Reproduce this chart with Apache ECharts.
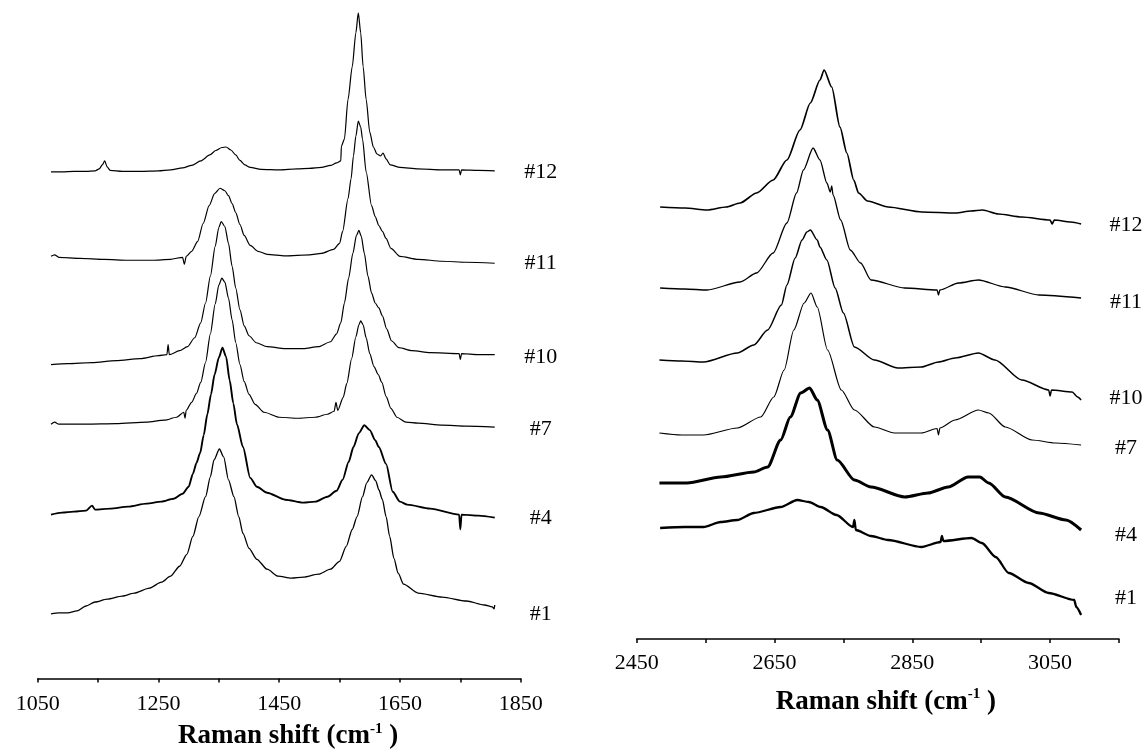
<!DOCTYPE html>
<html>
<head>
<meta charset="utf-8">
<script src="https://cdn.jsdelivr.net/npm/echarts@6/dist/echarts.min.js"></script>
<style>
html,body{margin:0;padding:0;background:#fff;}
#c{width:1144px;height:755px;}
</style>
</head>
<body>
<div id="c"></div>
<script>
// ---------- DATA (Raman shift cm-1, intensity a.u. incl. vertical offset) ----------
const namesL = ['#12', '#11', '#10', '#7', '#4', '#1'];
const namesR = ['#12', '#11', '#10', '#7', '#4', '#1'];

// left panel (D and G bands)
const L12 = [[1072,510],[1090,510],[1110,510.5],[1130,510.5],[1145,511],[1152,513],[1157,517],[1161,521],[1165,515],[1170,511.5],[1190,510.5],[1220,510.5],[1250,511],[1270,512],[1290,514],[1305,516.5],[1320,521],[1335,527],[1345,531.5],[1355,534.5],[1362,535],[1370,532],[1378,527],[1385,521.5],[1393,517],[1402,514.5],[1420,512.5],[1450,512],[1480,513],[1500,513.5],[1520,514.5],[1535,516.5],[1545,519],[1552,521],[1553,536],[1558,543],[1564,583],[1571,616],[1577,650],[1581,670],[1585,650],[1589,616],[1594,583],[1600,550],[1606,535],[1612,528],[1618,526],[1622,529],[1627,523],[1634,517],[1650,514.5],[1680,513],[1720,512],[1748,512],[1750,507],[1752,512],[1780,511.5],[1807,511]];
const L11 = [[1072,425],[1078,426.5],[1085,424],[1120,423],[1160,422],[1200,421],[1240,421],[1270,422],[1290,424],[1293,417],[1296,425],[1305,430],[1315,440],[1324,458],[1334,476],[1343,488],[1352,493.5],[1360,491],[1366,486],[1372,478],[1378,469],[1385,457],[1392,446],[1402,436],[1415,430],[1430,427],[1460,425.5],[1500,426.5],[1520,428],[1540,432],[1550,438],[1555,450],[1564,483],[1569,503],[1573,526],[1577,546],[1581,561],[1585,555],[1588,543],[1594,510],[1603,476],[1609,465],[1615,456],[1621,450],[1627,443],[1635,433],[1650,425],[1680,422],[1720,420],[1760,419],[1807,418]];
const L10 = [[1072,316],[1100,317],[1140,318],[1180,320],[1220,322],[1250,325],[1264,326],[1266,336],[1268,326],[1285,330],[1298,334],[1310,343],[1320,358],[1328,378],[1336,405],[1344,435],[1350,454],[1354,460],[1360,455],[1366,438],[1372,415],[1378,393],[1385,371],[1392,355],[1400,345],[1412,338],[1430,334],[1460,332],[1490,332],[1515,334],[1535,339],[1545,347],[1552,358],[1558,378],[1565,403],[1572,428],[1578,446],[1582,451],[1586,445],[1591,428],[1597,405],[1603,388],[1609,378],[1615,373],[1621,365],[1628,352],[1636,340],[1648,333],[1670,330],[1700,328],[1748,327],[1750,321],[1752,327],[1780,326],[1807,326]];
const L7 = [[1072,256],[1078,258],[1085,256],[1130,256],[1180,256.5],[1230,258],[1260,260],[1280,263],[1292,268],[1294,262],[1296,270],[1305,278],[1313,287],[1320,298],[1328,318],[1336,347],[1344,377],[1350,396],[1355,403],[1360,399],[1366,383],[1372,361],[1378,338],[1385,316],[1392,299],[1400,286],[1410,276],[1425,268],[1450,263],[1480,262],[1510,263],[1530,266],[1541,269],[1544,278],[1547,270],[1556,283],[1562,297],[1570,322],[1577,344],[1582,356],[1585,360],[1589,356],[1594,343],[1600,327],[1607,314],[1614,306],[1620,298],[1627,284],[1635,272],[1645,263],[1660,258],[1680,257],[1720,255],[1760,254],[1807,253]];
const L4 = [[1072,165],[1090,167],[1110,168],[1130,169],[1140,174],[1145,170],[1170,171],[1200,173],[1230,176],[1255,178],[1275,181],[1290,186],[1300,193],[1307,206],[1313,217],[1319,227],[1325,245],[1331,266],[1337,286],[1343,306],[1350,323],[1356,333],[1362,324],[1368,300],[1374,277],[1380,256],[1390,233],[1402,202],[1413,193],[1430,187],[1460,180],[1490,177],[1510,178],[1530,183],[1545,189],[1555,200],[1565,218],[1573,233],[1582,247],[1591,255],[1600,250],[1609,240],[1615,233],[1627,216],[1638,188],[1650,178],[1662,175],[1700,171],[1748,165],[1750,150],[1752,165],[1780,164],[1807,162]];
const L1 = [[1072,65],[1085,66],[1100,66],[1115,68],[1130,73],[1145,77],[1165,80],[1190,83],[1210,86],[1235,91],[1255,97],[1270,103],[1285,113],[1297,125],[1307,143],[1317,163],[1328,183],[1336,203],[1342,220],[1351,231],[1358,223],[1366,200],[1375,183],[1383,163],[1390,146],[1400,131],[1413,120],[1430,110],[1448,103],[1470,101],[1490,102],[1515,105],[1535,110],[1550,118],[1561,133],[1571,150],[1579,163],[1588,183],[1595,197],[1603,205],[1610,199],[1615,190],[1621,180],[1627,163],[1633,143],[1640,121],[1647,106],[1656,95],[1680,86],[1720,82],[1760,78],[1790,74],[1803,72],[1806,70],[1807,74]];

// right panel (2D band region)
const R12 = [[2484,432],[2520,431],[2552,429],[2580,432],[2600,436],[2624,446],[2648,459],[2668,479],[2687,509],[2702,536],[2716,559],[2722,569],[2733,552],[2745,512],[2755,486],[2765,459],[2772,446],[2785,438],[2815,432],[2864,427],[2913,426],[2935,428],[2952,429],[2975,425],[3009,422],[3050,419],[3053,415],[3056,419],[3080,417],[3095,415]];
const R11 = [[2484,351],[2520,350],[2552,349],[2600,357],[2624,366],[2648,386],[2668,416],[2682,446],[2692,469],[2706,491],[2716,479],[2726,456],[2731,447],[2733,453],[2735,444],[2746,419],[2760,389],[2775,376],[2790,359],[2839,351],[2886,349],[2888,344],[2890,349],[2917,356],[2946,359],[2985,352],[3034,344],[3095,341]];
const R10 = [[2483,279],[2515,278],[2547,277],[2596,286],[2620,294],[2640,309],[2660,334],[2668,354],[2680,381],[2690,399],[2697,407],[2702,409],[2712,399],[2716,392],[2726,379],[2738,351],[2750,326],[2766,292],[2795,279],[2829,271],[2863,272],[2888,277],[2912,281],[2946,286],[2970,279],[3009,259],[3048,249],[3050,243],[3052,249],[3082,247],[3090,242],[3095,239]];
const R7 = [[2483,206],[2515,204],[2547,204],[2596,211],[2630,222],[2649,242],[2664,269],[2678,309],[2693,336],[2703,346],[2712,332],[2727,289],[2747,249],[2766,229],[2795,212],[2824,206],[2863,206],[2886,210.5],[2888,204],[2890,211],[2912,219],[2946,229],[2961,226],[2985,212],[3024,199],[3058,196],[3095,194]];
const R4 = [[2483,156],[2523,156],[2572,162],[2620,167],[2640,172],[2659,199],[2673,222],[2688,246],[2701,251],[2712,239],[2727,209],[2741,179],[2766,159],[2790,152],[2839,142],[2873,146],[2902,152],[2931,162],[2948,162],[2961,156],[2985,142],[3034,126],[3073,119],[3095,109]];
const R1 = [[2484,111],[2520,112],[2547,112],[2572,117],[2596,119],[2620,126],[2659,132],[2683,139],[2700,137],[2717,132],[2740,124],[2764,112],[2766,119],[2768,109],[2790,103],[2815,99],[2863,92],[2891,97],[2893,103],[2895,98],[2936,101],[2951,96],[2971,82],[2990,66],[3019,56],[3048,46],[3085,39],[3088,32],[3095,24]];

// sample label levels (same intensity units)
const labelLevelsL = [510, 418, 323, 251, 161, 65];
const labelLevelsR = [414, 337, 241, 191, 104, 41];

// axis ranges / ticks
const xMinL = 1050, xMaxL = 1850, xMinR = 2450, xMaxR = 3150, xStep = 100, xLabelStep = 200;
const axisTitle = '{b|Raman shift (cm}{s|-1}{b| )}';

// ---------- CHART ----------
const seriesL = [L12, L11, L10, L7, L4, L1];
const seriesR = [R12, R11, R10, R7, R4, R1];
const widthsL = [1.2, 1.2, 1.2, 1.2, 1.9, 1.3];
const widthsR = [1.7, 1.3, 1.5, 1.2, 3.0, 2.3];
const serif = 'Liberation Serif, Times New Roman, serif';

const chart = echarts.init(document.getElementById('c'), null, {renderer: 'canvas'});

function xAxisOpt(gi, min, max, labelMargin, gapName, padLeft) {
  return {
    type: 'value', gridIndex: gi, min: min, max: max, interval: xStep,
    axisLine: {show: true, onZero: false, lineStyle: {color: '#000', width: 1.5}},
    axisTick: {show: true, inside: false, length: 4, lineStyle: {color: '#000', width: 1.5}},
    splitLine: {show: false},
    axisLabel: {
      show: true, margin: labelMargin, color: '#000', fontFamily: serif, fontSize: 22,
      formatter: v => ((v - min) % xLabelStep === 0 ? String(v) : '')
    },
    name: axisTitle, nameLocation: 'middle', nameGap: gapName,
    nameTextStyle: {
      color: '#000', fontFamily: serif, fontWeight: 'bold', fontSize: 27,
      padding: [0, 0, 0, padLeft],
      rich: {
        b: {fontFamily: serif, fontWeight: 'bold', fontSize: 27, lineHeight: 30, color: '#000'},
        s: {fontFamily: serif, fontWeight: 'bold', fontSize: 15, lineHeight: 18, verticalAlign: 'top', color: '#000'}
      }
    }
  };
}

const series = [];
seriesL.forEach((d, i) => series.push({
  type: 'line', name: 'L' + namesL[i], xAxisIndex: 0, yAxisIndex: 0, data: d,
  showSymbol: false, smooth: 0.25, smoothMonotone: 'x', silent: true,
  lineStyle: {color: '#000', width: widthsL[i]}
}));
seriesR.forEach((d, i) => series.push({
  type: 'line', name: 'R' + namesR[i], xAxisIndex: 1, yAxisIndex: 1, data: d,
  showSymbol: false, smooth: 0.25, smoothMonotone: 'x', silent: true,
  lineStyle: {color: '#000', width: widthsR[i]}
}));

chart.setOption({
  animation: false,
  backgroundColor: '#fff',
  grid: [
    {left: 37.7, top: 0, width: 483, height: 683},
    {left: 636.7, top: 0, width: 482.3, height: 639}
  ],
  xAxis: [xAxisOpt(0, xMinL, xMaxL, 15, 43, 18), xAxisOpt(1, xMinR, xMaxR, 13, 48, 16)],
  yAxis: [
    {type: 'value', gridIndex: 0, min: 0, max: 683, show: false},
    {type: 'value', gridIndex: 1, min: 0, max: 639, show: false}
  ],
  series: series
});

// sample labels to the right of each panel
const gfx = [];
function addLabels(names, levels, gi, xEnd, gap) {
  names.forEach((t, i) => {
    const p = chart.convertToPixel({xAxisIndex: gi, yAxisIndex: gi}, [xEnd, levels[i]]);
    gfx.push({
      type: 'text', x: p[0] + gap, y: p[1], silent: true,
      style: {text: t, fill: '#000', fontFamily: serif, fontSize: 22, align: 'center', verticalAlign: 'middle'}
    });
  });
}
addLabels(namesL, labelLevelsL, 0, xMaxL, 20);
addLabels(namesR, labelLevelsR, 1, xMaxR, 7);
chart.setOption({graphic: gfx});
</script>
</body>
</html>
